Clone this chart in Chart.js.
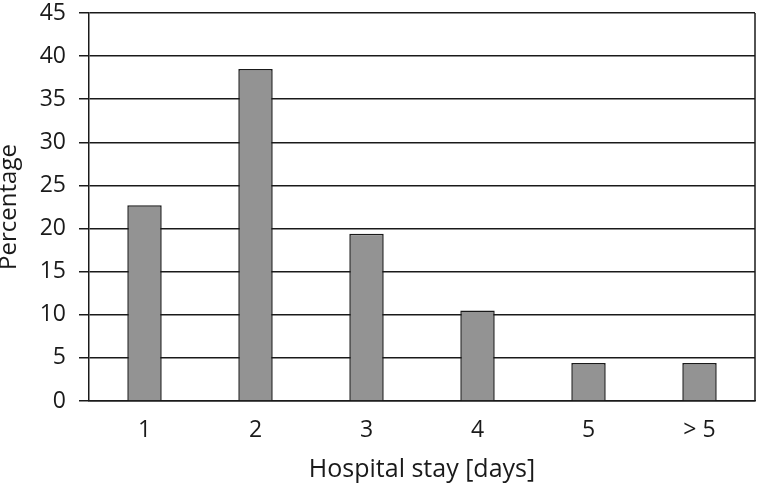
<!DOCTYPE html>
<html>
<head>
<meta charset="utf-8">
<script src="https://cdn.jsdelivr.net/npm/chart.js@4/dist/chart.umd.min.js"></script>
<style>
  html, body { margin: 0; padding: 0; background: #fff; }
  #wrap { width: 759px; height: 485px; }
</style>
</head>
<body>
<div id="wrap"><canvas id="stay"></canvas></div>
<script>
const stayLabels = ['1', '2', '3', '4', '5', '> 5'];
const stayPercent = [22.7, 38.5, 19.4, 10.5, 4.4, 4.4];
const yTicks = [0, 5, 10, 15, 20, 25, 30, 35, 40, 45];

const fontFam = '"Open Sans", "Noto Sans", sans-serif';

// right frame line of the plot area
const frameRight = {
  id: 'frameRight',
  afterDraw(chart) {
    const { ctx, chartArea } = chart;
    ctx.save();
    ctx.strokeStyle = '#1a1a1a';
    ctx.lineWidth = 1.5;
    ctx.beginPath();
    ctx.moveTo(chartArea.right, chartArea.top);
    ctx.lineTo(chartArea.right, chartArea.bottom);
    ctx.stroke();
    ctx.restore();
  }
};

new Chart(document.getElementById('stay'), {
  type: 'bar',
  data: {
    labels: stayLabels,
    datasets: [{
      data: stayPercent,
      backgroundColor: '#939393',
      borderColor: '#1a1a1a',
      borderWidth: 1.5,
      categoryPercentage: 1,
      barPercentage: 0.31
    }]
  },
  options: {
    responsive: true,
    maintainAspectRatio: false,
    animation: false,
    layout: { padding: { top: 13, right: 4, left: 0, bottom: 0 } },
    plugins: { legend: { display: false }, tooltip: { enabled: false } },
    scales: {
      x: {
        grid: { display: false },
        border: { color: '#1a1a1a', width: 1.5 },
        ticks: { color: '#1a1a1a', font: { family: fontFam, size: 23 }, padding: 8 },
        title: {
          display: true,
          text: 'Hospital stay [days]',
          color: '#1a1a1a',
          font: { family: fontFam, size: 25 },
          padding: { top: 4, bottom: 0 }
        },
        afterFit(scale) { scale.height = 84; }
      },
      y: {
        min: 0,
        max: 45,
        afterBuildTicks(scale) { scale.ticks = yTicks.map(v => ({ value: v })); },
        grid: { color: '#1a1a1a', lineWidth: 1.5, tickLength: 10 },
        border: { color: '#1a1a1a', width: 1.5 },
        ticks: { color: '#1a1a1a', font: { family: fontFam, size: 23 }, padding: 13 },
        title: {
          display: true,
          text: 'Percentage',
          color: '#1a1a1a',
          font: { family: fontFam, size: 24 },
          padding: { top: -5, bottom: 0 }
        },
        afterFit(scale) {
          scale.width = 89;
          scale.paddingTop = 0;
          scale.paddingBottom = 0;
        }
      }
    }
  },
  plugins: [frameRight]
});
</script>
</body>
</html>
